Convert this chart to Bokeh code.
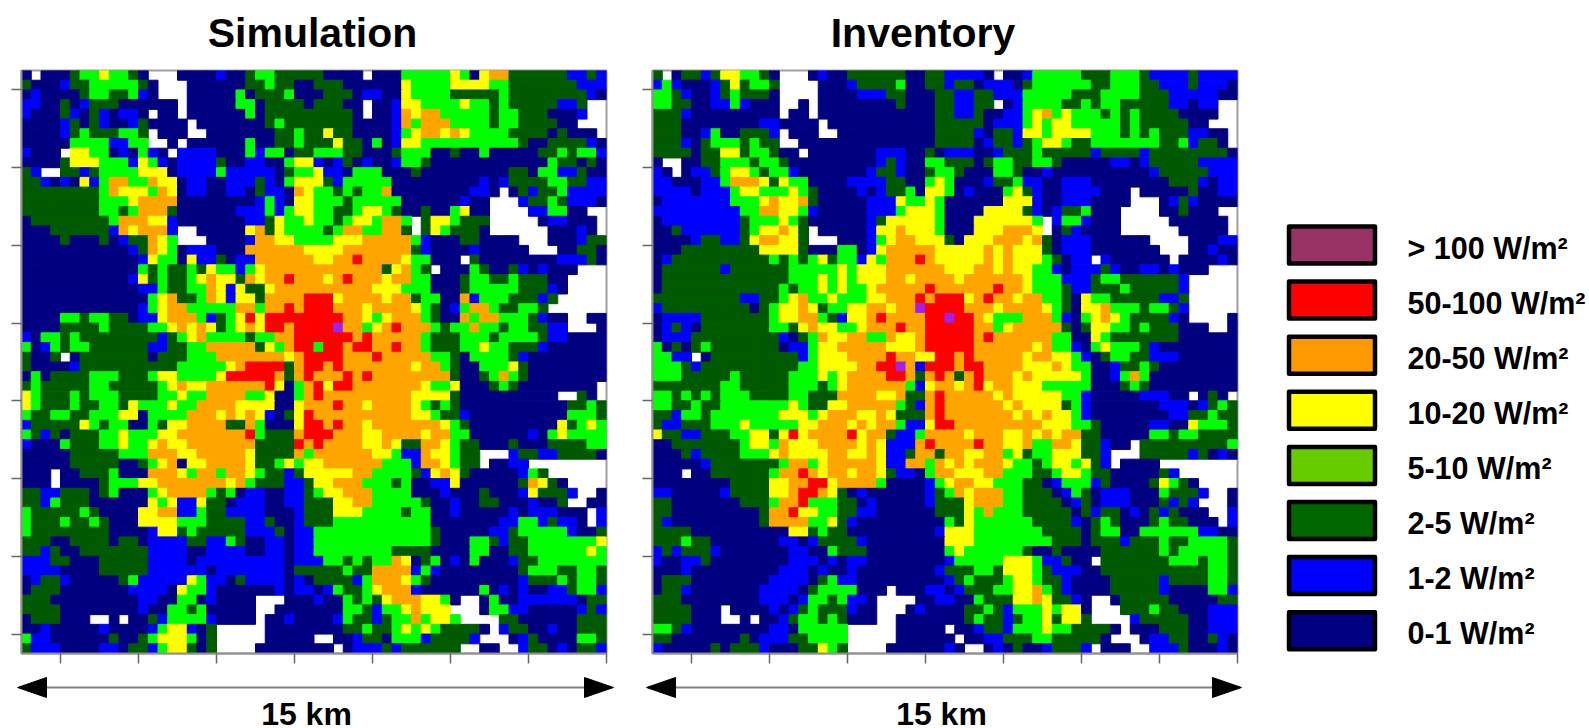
from bokeh.plotting import figure
from bokeh.layouts import row, column
from bokeh.models import Range1d, FixedTicker, ColumnDataSource
from bokeh.core.properties import value
from bokeh.embed import file_html
from bokeh.resources import INLINE

cell_colors = {"n": "#000080", "b": "#0000ff", "d": "#005a00", "g": "#00ff00", "y": "#ffff00",
               "o": "#ffa500", "r": "#ff0000", "p": "#a020f0"}

legend_labels = ["> 100 W/m²", "50-100 W/m²", "20-50 W/m²", "10-20 W/m²", "5-10 W/m²", "2-5 W/m²", "1-2 W/m²", "0-1 W/m²"]
legend_colors = ["#993366", "#ff0000", "#ff9900", "#ffff00", "#66cc00", "#006600", "#0000ff", "#000080"]
panel_titles = ["Simulation", "Inventory"]
scale_labels = ["15 km", "15 km"]

sim_left = [
"nWnnndggyggdnWWWnnnnbnndggdddd","dnnnbddgggggdnWWWnnnnnnddgddnn","nbnnnndggddgbnWWWnnnnngndddgnn",
"bbnndnbdddnnnnnnWnnnnnggnddddn","bnnndbndbnbbnWnnWnnnnnngnddddd","nnnnbdndbnnbdnnnnWnnnnnnndgddd",
"nnnnbdgdddggdWnnnWWnnnnnnnddgd","nnnnnggggbbggWWnWnnnnnngnnddgd","bnnnWyyggnbngbnWbbbbnnngbggndd",
"nnnndyyygggbygbnbbbbdnnbbnngyy","dbWWddbdggggyyynbbbbgbbbbbndgg","ddbnbnybgooggoyynbbnnbbbdbngyy",
"ddddddddgoyyygoynbbnnbbndbbnoy","ddddddddgggyoooonnnnnnnnbgbnyy","ddddddddggdgooodnnnnnnbbbgbgyy",
"nddddddddgoooyybnnnnnnnbbdyggy","nnnddddddboyooobWWnnnnnyodyggg","nnnndnnndnbddoygWWWnnnnbooyygg",
"nnnnnnnnnnnbdoygnbbbnnnooooooy","nnnnnnnnnnnnbyggnybbdnbboooooo","nnnnnnnnnnnngdgddgdyggbgyooooo",
"nnnnnnnnnnnbydgddgyoyydoyooroo","nnnnnnnnnnnnbbgddggoybyddyoooo","nnnnnnnnnnnnngyoddgoybyydoooor",
"nnnnnnnnnnnnbgyoogggggoogooror","nnnnggdggddnbbyooogbdgyryrrrrr","nnnnddddgddddggyoyoydgyoyrrorr",
"bnggdgddddddddbdgyoggggdggoorr","gnbgdggddddddbbddggooooodygorr","dnndWndddddddndddgggoooooooyor",
"dnnnnbddddddddddgggggyorrrrdor","ngnddddgggdddgyyggggyrrrrrodor","dgdddddggdddddgyoyyooooooryngo",
"ygdddgdgggddddggyggooooggynngo","ygdddgddggdygggyggooooyyyynnyo","gddggddgggyynggggoooyoyoybndyr",
"bdddddygdggnngdyyooooddognnnyr","gdbdndddggygggyyooooooorgdddor","bnnngdddggyggyoyyoooooooddddro",
"nnnnndddddgggoooyyoooooyddddog","nnnnndddddnndgyonyyooooyddgygy","nnnWnndddgnnnoooygoogooygddbdy",
"nnnWnnnndgggyyoooooooyogdddbbd","ddbbdddndgnnngyoooogdgnbbnnbbd","ddbgdddnnnnnnygybbyddnbbbnnbbd",
"gdddddgdnnnnyyoobbgddbbbbnnnbd","gdddgddgdnnnyyyygggddddbbdnnbd","gddddddddnnnnbyydgdddddbbbdnbb",
"dddnnddddnddnbbbbddbbgdnnbbnbb","ddbdnndddddddbbbbnnbbbbnnbbnbb","bbbddnnndddddbbbbnbbbbbbbbbnbb",
"bbbbnnnndddddbbbbbbnbbbbbbbndd","nbddbnnnnndgbbbbbygbbndbbbbnbn","ndddnnnnnnnbbbbnyggbnnnnnnbnbb",
"dddnnnnnnnnnbbnnggnbnnnnWWWnnn","ddddnnnnnnnnbnnggdgnnnnnWWnnnn","ndddnnnWWnWnndbggggbnnnnWnnbnn",
"nnbnnnnnbnnnnbgyybndWWWWWnnnnn","gbbnnnnnndnndgyyygndWWWWWnnnnn","dbbbnnnnbbnddbgyydndWWWWnnnnnn",
]

sim_right = [
"dnnnnWnnngggggygnyooddddddbbdb","dddnnnnnnyggggyyyyggdddddddbbb","ndddnbbnnyggggdddddgddddddddbn",
"dddnnWnnbyyggggyggdgdddddbbdWW","ddddnWnnboyoogggggdggdddnnnbWW","ddddnnnnbogoooggggdggddddnnWWW",
"dyddnnnnbgyooyoyggggddddndnnnW","ddyddngnbyyggggggggggdnnddddbn","gggddnnndgggnndnngnnnnnddgdggb",
"bnbdnbnnbggdnnnnnnnnnnnngddndn","ybbngggnnndnnnnnnnnnddnggbbdnn","ydbgggggnnnnnnnnnbnbddddggddbb",
"ggdgdggonnnnnnnnbbnWndbddgbbbb","gggdgggggnnnnnnbnnWWWbddgdbbbn","ggddgyygdnndnngynnWWWWbbggnnWW",
"ggdgyygoogWdyygdddWWWWWnbbnnnW","gdgooggoodWdygdddnWWWWWWnnnbnW","ggyyyooooogbnnnddnnnnWWWnnnbdd",
"yyyooooooodbnnnnbnnnnnWWWnnddn","yyoorooooyggnnnWdnnnnnnnnbbbdn","ooooooodyogdWnnngdnndbnbnnnWWW",
"oyoroooyooggnnndggddgdddnnWWWW","ooooooyyygggnnndgggggdddbnWWWW","rryooooyoodggnnobgggdddbdWWWWW",
"rroooyooooygdnbgoogddggdWWWWWW","rrrooygyooogdnnogoogggdbnnWWnn","rrpoogyorooogdggoggdggddbbWWWn",
"rrrrorooooogdddgggdggggdbbnnnn","grrorrooroogdddggyggdddbnnnnnn","rrroooroooooggdnggggdbnnnnnnnn",
"roroooooooyoogdnngggydnnnnnnnn","ooororoooooooodnndgogdnnnnnnnn","ryrroooooooyggynnndgdnnnnnnnnW",
"roooooooooyyyydnnnnnnnnnnWWdnW","oorooyooooygdgdnnnnnnnnnnnddgd","ooooooooooyygddbnnnnnnnnnngggd",
"rorooyoooooooygdnnnnnnnnnydgyg","rroooyyooooyooggnnnnnnbngygggg","rooooyyoyddooygddnnndnnnddddgg",
"ooooooyygbboyygddWWWbddbbddddn","yoooooogggbooygddWnnbbWWWWWWWW","yyyyooggggdbyoydnnnnnbgdWWWWWW",
"yyooogggdgnnbbynnnnnndoydnWWWW","gyyoooggggnnnbnnndnnnbydddbWWn","ddyyoogggggdnnbnnddnnnbnndWWnn",
"ddyyyggggdggnnbnnnnnbnbbbnnnWb","ddggggggggggnnnnnnnbbggbdbbnWb","ggggggggggggdnnnnnbbdgggggbnnd",
"ggggggggggggdnnnggdbddgggggggy","ggggggggddddnnnnggnnddggggggyg","bggdgdggoyndgnbngnnnbddggggggg",
"dddgddoooobgbnnnnnnnndgggddggd","ddddbgoooygdnnnnnnnnnbdddgdggd","nbgddgyooobnnnnnngnbnbnnbbdggb",
"bnngdgdyoooyygnWWngnnbbbbbbndd","nnnggdbggyoyyyWWWnggbbnnnnnbdb","nnbgddbdggogyygWWWWddnnnnnnddd",
"nnnddgddgygygddddnWbddnnbnnddd","WWnnbddngggbddddbWWWnbdnnnnggd","nnWnbbbdbddddddWWnnWWbddnbnddb",
]

inv_left = [
"dWnddbdyyggdnWWWnbnnddddddnnd","bgbnnnbdydggdWWWWnnnbddddgnnd","ggdbnnbdgdddnWWWWnnnnbbbddnnn",
"ggddnnbbgbnnnWWnWnnnnnnnndnnn","dddbnnnnnnnnnWnnWnnnnnnnnnnnn","dddnnnnnnnnbbnnnnWnnnnnnnnnnn",
"dddnnbgnndddbWnnnWWnnnnnnnnnn","dddbndgggdgddWWnnnnnnnnnnnnnn","ddddnddyydggdnnWnnnnnnnbbbnnd",
"nWWnnddgggdggdnnnnnnnnnbdbnng","bnWnbbdgyygdggbnnnnnnnbddbnnd","bbnnnbbgoooydyggnnnnbbbbddnng",
"bbbbnbbbgyygggygdnnnnbnbddgny","nbbbbbbbgggyoyyodnnnnnbbbyggy","bbbbbbbbbggooyygbnnnnnbbbgyyy",
"nbbbbbbbbdgggygdnnnnnnbdyyyyy","nndbbbbbbdgyyoydWnnnnnbyyoyyy","nnnnbddbbdyooyydWWWnnnbgyooyy",
"nnnddddddddyyyydnnnggnbyooooo","nbddddddddddgdgdgydggbygoooro","nddddddbddddddgggggygyyyooooo",
"ndddddddddddddgggygygyyyooyoo","nddddddddddddgdggygyggyooooor","dddddddddbbddgyoggygggyyoooro",
"bdddddddddndgyyoydggyyooyoopr","nbbbbdddddddgyyoogdbyyoroooor","nbdbndddddddggdyoyyggyoooroor",
"nbbbdddddddddbndgoyyooggoyyor","gndndgdddddddnbbgyyoooooyyyor","ggbbWndddddddddbgyyyoooorooyy",
"gggdbddddddddddggyyyyoorrpobr","gggdddddgdddddgggygyoooorrodo","dddddddggdddddgggdgyoooooogby",
"ggdgdgdgggddddggdddooooyyoddo","ggddgddgggggggygddyyooooogdbo","ddbggdgggggggyyygyoooyyoydddo",
"dbbdddgggygggggyyoooyoyoogbby","yddbbdddggyydyryooooryoodbbgo","nndddddddgyygoyyyooooyoybbbor",
"nnndbddddgggyoyyyyooyyoybbdoo","nnnnnbdddddddgoogyoooooybboog","nnnWnnddddddgooroyooyooydbbng",
"nnnnnnnnddddyyoorryoooognnnnb","bbnnnnnbddddyyorroydnbnnnnnnb","ddnnnnnnndddgoorgggddnbnnnnnb",
"ddnnnnnnnnndooryyggddbbnnnnnn","dbnnnnnnnnndooooggydbnnnnnnnn","ddddnnnnnnnnnnyydgddnnnnnnnnn",
"dddgddnnnnnnnbbnbddddbnnnnnnn","bdbdddbnnnnnnnbbnngdddnnnnnnn","bnnbbdnnnnnnnnbbbnbnbbnnnnnnn",
"nnnbnnnnnnnnnbbbnbnnbnnnnnnnn","ndddnnnnnnnnbbbbndgbbnnnnnnnn","nddbnnnnnnnbbbbndggggnnnWnnnb",
"dddnnnnnnnnbbbnbggdgbbnWWWWnn","ddddnnnWnnnnbnbdgdddbnnWWWnbn","ddddnnnWWnWnnbdggdgdnnnWWnnnn",
"ggdbnnnnnnnnbbngggggWWWWWnnnn","ddnnnnnnndnbbbddggggWWWWWnnnn","bnnnnndndddbnnnddygdWWWWnnnnn",
]

inv_right = [
"dbbbbnWnnbgggggdddgggdbbbbdbbb","dbddnbbbndggggggddgggddbbbdbbb","ddbbddbbbgggggdddggggdddbbbbbn",
"ddbbddWnbggggddgdggdddddbbnbbW","ddbbdnnbbgyogygggdgdgddddnnnnW","dddddnbbbgygyygggggdgdddddnnWW",
"ddddbnddbyygyyyygggdgdgdddbbnn","ddddnbddbdgyygddgggggggddgbddn","nbbbnnbdddgdddddbddddbdddddddd",
"gdddndggddggdnnnnnbbnbdddddbbb","ggdnnnggdnnbnnnnnnnnnnbdddddbb","ygnnnbddgbbnnbbbnnnnnnnndddbnb",
"ygnbnnngydbnnbbbbnnnWnnnnndnnb","gnnnnnnyyybnnbbbnnnnWWWnbdbnnn","gnnnnyyyydbnbddgnnnWWWWnndnnnW",
"gnnnyyyyyygWbggbnnnWWWWWnnnnnn","gnnnyyyoooyWndbnnnnWWWWWWnnnnn","ydnyyyoooyodnbbbnnnnnnWWWWnnnb",
"yyyyyoyoyyydnbbbnnnnnnnWWWnnbn","yyyyyoyoyyygdnbbWbnnnnnnWnnnnb","oyyyooyoyyggbnbbbdbnnbbnbnnnWW",
"ooyooooooygggbbbdggddddddbWWWW","oooooorooygggdbbdddgdddddbWWWW","rrryorooyooggdnyggdddddbbdWWWW",
"rrroooyooooygdnyyogggdggdbWWWW","rprroygggooogbngyoygddddbnWWWW","rrrroogyooooodndyyggdgdddnnnWW",
"rrrrorooooooggnnygdddddddnnnnn","rrrrooooooyoggbngygggdbnnnnnnn","rroroooooyooyygbndggddbbbnnnnn",
"rrorrooooyyyoyggnnbddgdnnnnnnn","rodoroooyoyyyyygnnbgognnnnnnnn","ooyoryooyyygggggnnndgdnnnnnnnn",
"roooooyoyyyyyggbnnnnnbbbnnWndn","rooooooyoyyyydgbnnnnnnnbbbnbdg","roooooooyoyoyygbnnnnnnnnbbddgd",
"rroooooooooyyyggdnnnnnbbnnyggg","oooyoooyyoyoyooddnnnnnggdggddd","oooorooyyoggooyddbnnWddddddddd",
"dooyyoogydggyyyddbWWWdddddbdnb","oyoyoooyggdgyygydbWnnnnWWWWWWW","ooyyyoogggddgyygddnnnnndbWWWWW",
"gyooyygggddnbgggbdnnnndygdnWWW","dgoyoooggdddnbgdnbbbnnngdddbWW","dddyoooggddddnbdnbbbnnndbdbWWW",
"dddygogggdddddndbddnbndbdnnnWW","ngdyggggggddddbndgdnnndgddnnnW","byyygggggggddddndggnnggggggbbn",
"nyyyggggggggdddndddbdddgddgggg","ngyggggggdnndnnnnddddddgdggggg","nbgggggyyygbbdnnWdddddddgggdgg",
"bdddggdyyygdbbbnndddddddddddgg","nbdgdddgyygddbnnnndddddbddddgg","bnbdddggyyogdbnnnndddddbnnnngg",
"bbnngdddyyoyddbnWWndddddnnnnnd","nnnddgdbgggygyynWWWdddgddnnnbb","nnndgddbdggydyydWWWWbdddddnnbb",
"nWnnbddbgggyggddddnWnnndddnnbb","nnWnnbbdddggdddddnWWWnbbddnndb","nbnWWnbndnnbdddbWnnnWWbbbdnnnb",
]

inv_edge = "bnnWWWWWnbbbbnWWWbnnWWWWWnnnnn" + "nnnWddddgnWWWnnbbnddddd" + "bdbbbnn"

sim_rows = [a + b for a, b in zip(sim_left, sim_right)]
inv_rows = [a + b + c for a, b, c in zip(inv_left, inv_right, inv_edge)]

PAGE_W, HEAD_B, PANEL_B, PAGE_B = 1588, 68, 668, 727
TOP_FRAME, BOTTOM_FRAME = 70, 653


def panel(rows, fig_w, border_l, border_r, border_t, frame_h):
    fig_h = PANEL_B - HEAD_B
    p = figure(width=fig_w, height=fig_h, x_range=Range1d(0, 60), y_range=Range1d(0, 60),
               toolbar_location=None, output_backend="svg", title=None,
               min_border_left=border_l, min_border_right=border_r,
               min_border_top=border_t, min_border_bottom=fig_h - border_t - frame_h)
    p.grid.visible = False
    p.outline_line_color = "#a0a0a0"
    p.outline_line_width = 2
    p.background_fill_color = "white"
    for ax, ticks in ((p.xaxis[0], list(range(4, 61, 8))), (p.yaxis[0], list(range(2, 60, 8)))):
        ax.ticker = FixedTicker(ticks=ticks)
        ax.major_label_overrides = {t: "" for t in ticks}
        ax.major_label_text_font_size = "1px"
        ax.major_label_standoff = 0
        ax.minor_tick_line_color = None
        ax.major_tick_in = 0
        ax.major_tick_out = 10
        ax.major_tick_line_color = "#666666"
        ax.major_tick_line_width = 1.5
        ax.axis_line_color = "#909090"
        ax.axis_line_width = 2
    xs, ys, cols = [], [], []
    for r, line in enumerate(rows):
        for c, code in enumerate(line):
            if code in cell_colors:
                xs.append(c + 0.5)
                ys.append(59.5 - r)
                cols.append(cell_colors[code])
    src = ColumnDataSource(dict(x=xs, y=ys, color=cols))
    p.rect("x", "y", width=1, height=1, source=src, fill_color="color", line_color="color", line_width=1)
    return p


def strip(w, h, x0, x1, y_bottom, y_top, **kw):
    s = figure(width=w, height=h, x_range=Range1d(x0, x1), y_range=Range1d(y_bottom, y_top),
               toolbar_location=None, output_backend="svg", min_border=0, title=None,
               x_axis_location=None, y_axis_location=None, **kw)
    s.grid.visible = False
    s.outline_line_color = None
    return s


head = strip(PAGE_W, HEAD_B, 0, PAGE_W, HEAD_B, 0)
head.text(x=[312, 922.5], y=[32, 32], text=panel_titles, text_font=value("Liberation Sans"), text_font_style="bold",
          text_font_size="41px", text_align="center", text_baseline="alphabetic", text_color="black")

a = panel(sim_rows, 630, 21, 24, 2, 583)
b = panel(inv_rows, 620, 22, 13, 1, 584)

leg = strip(PAGE_W - 1250, PANEL_B - HEAD_B, 1250, PAGE_W, BOTTOM_FRAME, TOP_FRAME,
            min_border_top=TOP_FRAME - HEAD_B, min_border_bottom=PANEL_B - BOTTOM_FRAME)
ly = [244.5 + 55.1 * i for i in range(len(legend_labels))]
leg.rect(x=[1331.5] * len(ly), y=ly, width=86, height=37, fill_color=legend_colors,
         line_color="black", line_width=4.5, line_join="round")
leg.text(x=[1407] * len(ly), y=[v + 2.5 for v in ly], text=legend_labels, text_font=value("Liberation Sans"),
         text_font_style="bold", text_font_size="30.5px", text_baseline="alphabetic", text_color="black")

foot = strip(PAGE_W, PAGE_B - PANEL_B, 0, PAGE_W, PAGE_B, PANEL_B)
arrow_ends = [(17, 613), (646, 1241)]
foot.segment(x0=[e[0] + 25 for e in arrow_ends], x1=[e[1] - 25 for e in arrow_ends], y0=[687, 687], y1=[687, 687],
             line_color="#808080", line_width=2)
head_xs, head_ys = [], []
for l_end, r_end in arrow_ends:
    head_xs += [[l_end, l_end + 29, l_end + 29], [r_end, r_end - 29, r_end - 29]]
    head_ys += [[687, 677, 697], [687, 677, 697]]
foot.patches(head_xs, head_ys, fill_color="black", line_color="black")
foot.text(x=[306, 941], y=[713, 713], text=scale_labels, text_font=value("Liberation Sans"), text_font_style="bold",
          text_font_size="32px", text_align="center", text_baseline="alphabetic", text_color="black")

page = column(head, row(a, b, leg), foot)
open("out.html", "w").write(file_html(page, INLINE))
